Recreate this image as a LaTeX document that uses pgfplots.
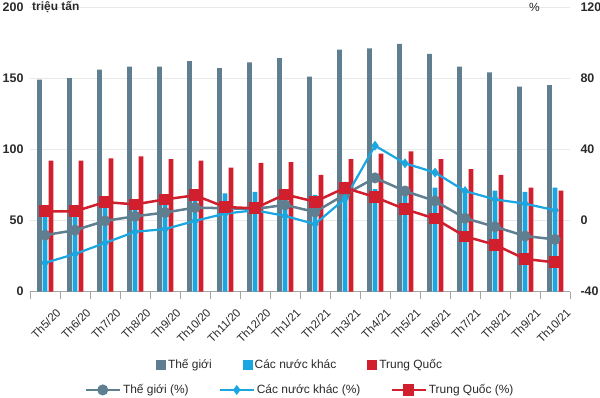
\documentclass[border=0pt]{standalone}
\usepackage{pgfplots}
\pgfplotsset{compat=1.18}
\usepackage{fontspec}
\setmainfont{Liberation Sans}
\definecolor{cgrey}{HTML}{5F7E90}
\definecolor{cblue}{HTML}{1AA7E1}
\definecolor{cred}{HTML}{D21F2E}
\definecolor{cgrid}{HTML}{E9E9E9}
\definecolor{caxis}{HTML}{A5A5A5}
\definecolor{ctext}{HTML}{2A2A2A}
\pgfplotsset{
  base/.style={
    width=540bp, height=284.5bp, scale only axis,
    at={(30bp,105.5bp)}, anchor=south west,
    xmin=-0.5, xmax=17.5,
  },
}
\begin{document}
\begin{tikzpicture}[x=1bp,y=1bp]
\useasboundingbox (0,0) rectangle (600,397);
% ---------------- bars (left axis) ----------------
\begin{axis}[base,
  ymin=0, ymax=200,
  ytick={0,50,100,150,200}, yticklabels={0,50,100,150,200},
  ymajorgrids, grid style={cgrid, line width=0.6bp},
  axis y line*=left, y axis line style={draw=none},
  ytick style={draw=none},
  yticklabel style={font=\bfseries\fontsize{12.5}{13}\selectfont, text=ctext, xshift=-3bp},
  axis x line*=bottom, x axis line style={-, caxis, line width=0.9bp},
  xtick={0,...,17},
  xticklabels={Th5/20,Th6/20,Th7/20,Th8/20,Th9/20,Th10/20,Th11/20,Th12/20,Th1/21,Th2/21,Th3/21,Th4/21,Th5/21,Th6/21,Th7/21,Th8/21,Th9/21,Th10/21},
  major x tick style={draw=none}, major tick length=0bp,
  minor xtick={-0.5,0.5,...,17.5},
  minor x tick style={caxis, line width=0.9bp}, minor tick length=7bp,
  tick align=outside,
  xticklabel style={rotate=45, anchor=north east, inner sep=0bp, yshift=-19bp, xshift=-4bp,
    font=\fontsize{11.5}{12}\selectfont, text=ctext},
  legend style={at={(0.5,-0.258)}, anchor=center, draw=none, fill=none,
    legend columns=3, font=\fontsize{12}{14}\selectfont, text=ctext,
    /tikz/every even column/.append style={column sep=29bp}},
  legend image code/.code={\fill[#1] (0bp,-5bp) rectangle (10bp,5bp);},
]
\addplot[ybar, bar width=4.6bp, bar shift=-5.5bp, fill=cgrey, draw=none] coordinates {
(0,149) (1,150) (2,156) (3,158) (4,158) (5,162) (6,157) (7,161) (8,164)
(9,151) (10,170) (11,171) (12,174) (13,167) (14,158) (15,154) (16,144) (17,145)};
\addlegendentry{Thế giới}
\addplot[ybar, bar width=4.6bp, bar shift=0bp, fill=cblue, draw=none] coordinates {
(0,57) (1,58) (2,62) (3,63) (4,65) (5,69) (6,69) (7,70) (8,72)
(9,68) (10,77) (11,72) (12,74) (13,73) (14,72) (15,71) (16,70) (17,73)};
\addlegendentry{Các nước khác}
\addplot[ybar, bar width=4.6bp, bar shift=6bp, fill=cred, draw=none] coordinates {
(0,92) (1,92) (2,93.5) (3,95) (4,93) (5,92) (6,87) (7,90.5) (8,91)
(9,82) (10,93) (11,97) (12,98.5) (13,93) (14,86) (15,82) (16,73) (17,71)};
\addlegendentry{Trung Quốc}
\end{axis}
% ---------------- lines (right axis) ----------------
\begin{axis}[base,
  ymin=-40, ymax=120,
  ytick={-40,0,40,80,120}, yticklabels={-40,0,40,80,120},
  axis y line*=right, y axis line style={draw=none},
  ytick style={draw=none},
  yticklabel style={font=\bfseries\fontsize{12.5}{13}\selectfont, text=ctext, xshift=7bp},
  hide x axis,
  legend style={at={(0.5,-0.346)}, anchor=center, draw=none, fill=none,
    legend columns=3, font=\fontsize{12}{14}\selectfont, text=ctext,
    /tikz/every even column/.append style={column sep=28bp}},
  legend image code/.code={\draw[mark repeat=2,mark phase=2,#1] plot coordinates {(0bp,0bp) (17bp,0bp) (34bp,0bp)};},
]
\addplot[cgrey, line width=2.5bp, mark=*, mark size=4.2bp] coordinates {
(0,-8.3) (1,-5.5) (2,-0.3) (3,2.3) (4,4.4) (5,7.2) (6,6.8) (7,6.4) (8,8.7)
(9,4.7) (10,14.6) (11,23.9) (12,16.5) (13,10.9) (14,1.2) (15,-3.6) (16,-8.8) (17,-10.7)};
\addlegendentry{Thế giới (\%)}
\addplot[cblue, line width=2.2bp, mark=diamond*, mark size=3.2bp] coordinates {
(0,-23.9) (1,-18.9) (2,-12.7) (3,-6.4) (4,-4.9) (5,-0.3) (6,3.8) (7,5.7) (8,2.5)
(9,-2.1) (10,12.2) (11,42) (12,32.1) (13,26.9) (14,16.5) (15,11.8) (16,9.4) (17,5.7)};
\addlegendentry{Các nước khác (\%)}
\addplot[cred, line width=2.5bp, mark=square*, mark size=4.6bp] coordinates {
(0,5.1) (1,5.1) (2,10.3) (3,9) (4,11.8) (5,14.1) (6,7.5) (7,6.8) (8,14.6)
(9,10.5) (10,18.3) (11,13.1) (12,6.3) (13,1) (14,-9) (15,-13.7) (16,-21.7) (17,-23.6)};
\addlegendentry{Trung Quốc (\%)}
\end{axis}
\node[anchor=west, font=\bfseries\fontsize{12}{13}\selectfont, text=ctext, inner sep=2bp]
  at (30,390) {triệu tấn};
\node[anchor=east, font=\fontsize{12}{13}\selectfont, text=ctext, inner sep=0bp]
  at (540,390) {\%};
\end{tikzpicture}
\end{document}
